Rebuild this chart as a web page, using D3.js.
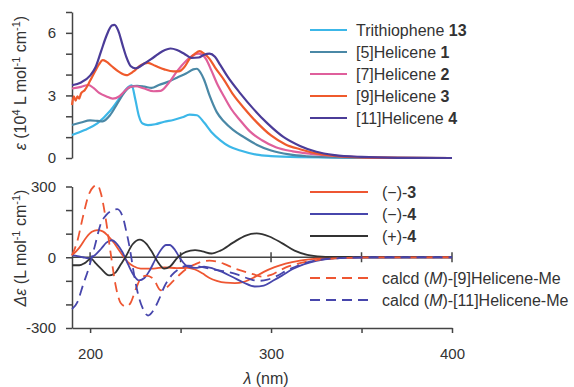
<!DOCTYPE html>
<html>
<head>
<meta charset="utf-8">
<script src="https://cdn.jsdelivr.net/npm/d3@7"></script>
<style>
  body { margin: 0; background: #fff; }
  svg { font-family: Arial, "Liberation Sans", Helvetica, sans-serif; }
  .axis path, .axis line { stroke: #444; stroke-width: 1.5; }
  .axis text { font-size: 15px; fill: #333; }
  .legend text { font-size: 16px; fill: #333; }
</style>
</head>
<body>
<svg id="chart" width="574" height="387"></svg>
<script>
// absorption, epsilon in 10^4 L mol-1 cm-1, [lambda nm, value]
const trithiophene13 = [[190,1.1],[197,1.34],[204,1.66],[211,2.25],[217,2.95],[221,3.4],[223,3.48],[225,2.8],[227,2.0],[229,1.65],[232,1.58],[236,1.62],[241,1.74],[246,1.82],[251,1.95],[255,2.08],[259,2.05],[263,1.7],[267,1.25],[272,0.85],[277,0.55],[283,0.36],[292,0.16],[300,0.09],[315,0.04],[340,0.02],[400,0]]
const helicene5 = [[190,1.58],[195,1.7],[200,1.8],[204,1.78],[207,1.76],[211,2.05],[215,2.6],[219,3.15],[222,3.4],[226,3.46],[230,3.42],[234,3.36],[238,3.5],[243,3.65],[248,3.85],[253,4.05],[257,4.25],[259,4.28],[261,4.1],[263,3.75],[266,3.0],[270,2.2],[274,1.75],[279,1.35],[285,1.0],[292,0.64],[300,0.36],[310,0.17],[320,0.08],[335,0.03],[360,0.01],[400,0]]
const helicene7 = [[190,3.33],[195,3.41],[199,3.5],[202,3.35],[205,3.12],[209,2.95],[212.5,2.85],[216,2.95],[219,3.2],[222,3.41],[225,3.44],[230,3.33],[235,3.2],[239,3.22],[243,3.55],[248,4.15],[253,4.65],[257,4.93],[260,5.0],[262,4.95],[264,4.75],[267,4.2],[270,3.6],[274,2.95],[278,2.35],[283,1.8],[288,1.3],[295,0.85],[303,0.5],[312,0.32],[322,0.2],[335,0.1],[350,0.04],[370,0.01],[400,0]]
const helicene9 = [[190,2.54],[191,2.95],[192,2.75],[193,2.95],[194,2.85],[195,3.1],[197,3.25],[200,3.7],[203,4.2],[205,4.5],[207,4.69],[209,4.62],[212,4.4],[216,4.13],[220,3.97],[224,4.15],[228,4.45],[232,4.56],[236,4.42],[241,4.25],[246,4.15],[249,4.15],[252,4.35],[255,4.75],[258,5.0],[260.5,5.12],[263,5.0],[266,4.75],[269,4.35],[274,3.75],[279,3.05],[285,2.4],[292,1.72],[300,1.08],[308,0.65],[316,0.42],[325,0.22],[338,0.08],[355,0.02],[400,0]]
const helicene11 = [[190,3.49],[195,3.62],[200,3.95],[203,4.35],[206,5.1],[209,5.85],[212,6.35],[213.5,6.38],[215.5,6.12],[218,5.4],[220,4.85],[222.5,4.4],[225,4.3],[230,4.53],[235,4.82],[240,5.12],[244.5,5.25],[248,5.18],[252,5.0],[256,4.8],[260,4.82],[263,4.95],[266,5.0],[269,4.85],[272,4.45],[276,3.9],[283,3.1],[290,2.38],[298,1.66],[307,1.0],[316,0.58],[325,0.3],[335,0.14],[350,0.05],[370,0.01],[400,0]]

// circular dichroism, delta epsilon in L mol-1 cm-1
const minus3 = [[190,8],[194,40],[198,85],[201,108],[204,115],[207,110],[210,90],[213.5,58],[216,30],[218,8],[221,-22],[224,-38],[228,-48],[235,-48],[241,-43],[248,-46],[254,-45],[258,-52],[262,-68],[266,-88],[270,-100],[275,-108],[280,-110],[285,-104],[290,-88],[296,-62],[302,-42],[308,-27],[316,-14],[325,-6],[335,-2],[350,0],[400,0]]
const minus4 = [[190,8],[193,5],[196,0],[199,-5],[202,5],[206,35],[209,62],[212,72],[215,55],[218,20],[221,-30],[224,-75],[227,-98],[230,-88],[233,-55],[236,-10],[239,30],[242,52],[244,52],[247,30],[250,-8],[254,-40],[258,-45],[263,-40],[268,-48],[273,-62],[279,-85],[285,-108],[291,-124],[296,-120],[301,-100],[306,-78],[312,-50],[318,-30],[325,-15],[335,-5],[350,-1],[400,0]]
const plus4 = [[190,-34],[194,-34],[197,-25],[200.5,-6],[203,-25],[206,-48],[210.5,-77],[214,-65],[217,-30],[219.5,0],[223.5,55],[227.5,75],[231,58],[234,25],[237,-15],[241,-48],[244,-40],[248.5,0],[253,23],[258,30],[262,25],[267,16],[272,28],[279,62],[286,92],[292,101],[299,88],[306,60],[313,28],[320,10],[328,3],[340,1],[360,0],[400,0]]
const calcd9 = [[190,8],[193,70],[196,170],[199,260],[202,300],[204,307],[206,270],[208.5,170],[211.5,10],[214,-115],[217,-195],[220,-209],[222.5,-192],[225.5,-130],[228,-90],[231,-78],[235,-92],[239,-140],[242,-130],[246,-100],[250,-70],[254,-45],[258,-30],[262,-18],[266,-14],[270,-18],[274,-28],[279,-45],[284,-58],[290,-72],[295,-82],[300,-75],[305,-55],[310,-38],[316,-25],[325,-12],[335,-5],[350,-1],[400,0]]
const calcd11 = [[190,-220],[193,-190],[196,-120],[199.5,-40],[202.5,44],[206,144],[209,180],[212,198],[215,204],[218,172],[220,110],[222,35],[224,-60],[226,-140],[229,-215],[232,-247],[235,-225],[238,-180],[241,-125],[245,-77],[249,-50],[254,-36],[259,-38],[264,-45],[270,-55],[276,-62],[282,-75],[288,-92],[293,-100],[298,-95],[303,-80],[309,-55],[315,-35],[322,-18],[330,-8],[340,-3],[355,0],[400,0]]

const topLabels = [["Trithiophene ", "13"], ["[5]Helicene ", "1"], ["[7]Helicene ", "2"], ["[9]Helicene ", "3"], ["[11]Helicene ", "4"]]
const xTicks = [200, 250, 300, 350, 400]

const svg = d3.select("#chart")

const x = d3.scaleLinear().domain([190, 400]).range([72, 452])
const yTop = d3.scaleLinear().domain([0, 7]).range([158, 12])
const yBot = d3.scaleLinear().domain([-300, 300]).range([328, 186.5])

// ---- top panel: UV-vis
svg.append("g")
  .attr("class", "axis")
  .attr("transform", "translate(72,0)")
  .call(d3.axisLeft(yTop)
    .tickValues(d3.range(0, 8))
    .tickSize(6)
    .tickSizeOuter(0)
    .tickPadding(10)
    .tickFormat(d => d % 3 === 0 ? d : ""))

const topSeries = [
  {data: trithiophene13, color: "#3cb7e8"},
  {data: helicene5, color: "#4a88a6"},
  {data: helicene7, color: "#df5f9c"},
  {data: helicene9, color: "#ef5a2c"},
  {data: helicene11, color: "#4b3c98"}
]

const lineTop = d3.line()
  .x(d => x(d[0]))
  .y(d => yTop(d[1]))
  .curve(d3.curveMonotoneX)

svg.append("g")
  .selectAll("path")
  .data(topSeries)
  .join("path")
  .attr("d", s => lineTop(s.data))
  .attr("fill", "none")
  .attr("stroke", s => s.color)
  .attr("stroke-width", 2.2)

const topLegend = svg.append("g").attr("class", "legend")
topSeries.forEach((s, i) => {
  const cy = 30 + i * 22
  topLegend.append("line")
    .attr("x1", 310).attr("x2", 347)
    .attr("y1", cy).attr("y2", cy)
    .attr("stroke", s.color)
    .attr("stroke-width", 2.2)
  const t = topLegend.append("text")
    .attr("x", 356).attr("y", cy).attr("dy", "0.36em")
  t.append("tspan").text(topLabels[i][0])
  t.append("tspan").attr("font-weight", "bold").text(topLabels[i][1])
})

// top y label
const topLabel = svg.append("text")
  .attr("transform", "translate(26,83) rotate(-90)")
  .attr("text-anchor", "middle")
  .attr("font-size", 16)
  .attr("fill", "#333")
topLabel.append("tspan").attr("font-style", "italic").text("ε")
topLabel.append("tspan").text(" (10")
topLabel.append("tspan").attr("font-size", 11).attr("dy", -6).text("4")
topLabel.append("tspan").attr("dy", 6).text(" L mol")
topLabel.append("tspan").attr("font-size", 11).attr("dy", -6).text("-1")
topLabel.append("tspan").attr("dy", 6).text(" cm")
topLabel.append("tspan").attr("font-size", 11).attr("dy", -6).text("-1")
topLabel.append("tspan").attr("dy", 6).text(")")

// ---- bottom panel: CD
svg.append("g")
  .attr("class", "axis")
  .attr("transform", "translate(72,0)")
  .call(d3.axisLeft(yBot)
    .tickValues(d3.range(-300, 301, 100))
    .tickSize(6)
    .tickSizeOuter(0)
    .tickPadding(10)
    .tickFormat(d => d % 300 === 0 ? d : ""))

svg.append("g")
  .attr("class", "axis")
  .attr("transform", `translate(0,${yBot(-300)})`)
  .call(d3.axisBottom(x)
    .tickValues(xTicks)
    .tickSize(5)
    .tickSizeOuter(0)
    .tickPadding(15)
    .tickFormat(d => d % 100 === 0 ? d : ""))

// zero line with crossing ticks
const zero = svg.append("g").attr("class", "axis")
zero.append("line")
  .attr("x1", x(190)).attr("x2", x(400))
  .attr("y1", yBot(0)).attr("y2", yBot(0))
  .attr("stroke-width", 2)
zero.selectAll(".zt")
  .data(xTicks)
  .join("line")
  .attr("class", "zt")
  .attr("x1", d => x(d)).attr("x2", d => x(d))
  .attr("y1", yBot(0) - 5).attr("y2", yBot(0) + 5)

const botSeries = [
  {data: minus3, color: "#ee5632", dash: null},
  {data: minus4, color: "#4746ac", dash: null},
  {data: plus4, color: "#333333", dash: null},
  {data: calcd9, color: "#ee5632", dash: "10,6"},
  {data: calcd11, color: "#4746ac", dash: "10,6"}
]

const lineBot = d3.line()
  .x(d => x(d[0]))
  .y(d => yBot(d[1]))
  .curve(d3.curveMonotoneX)

svg.append("g")
  .selectAll("path")
  .data(botSeries)
  .join("path")
  .attr("d", s => lineBot(s.data))
  .attr("fill", "none")
  .attr("stroke", s => s.color)
  .attr("stroke-width", 1.8)
  .attr("stroke-dasharray", s => s.dash)

const botLegend = svg.append("g").attr("class", "legend")
const botRows = [192, 214, 236, 278, 300]
botSeries.forEach((s, i) => {
  botLegend.append("line")
    .attr("x1", 310).attr("x2", 368)
    .attr("y1", botRows[i]).attr("y2", botRows[i])
    .attr("stroke", s.color)
    .attr("stroke-width", 2)
    .attr("stroke-dasharray", s.dash)
})
function legendText(cy) {
  return botLegend.append("text").attr("x", 382).attr("y", cy).attr("dy", "0.36em")
}
let t = legendText(botRows[0])
t.append("tspan").text("(−)-")
t.append("tspan").attr("font-weight", "bold").text("3")
t = legendText(botRows[1])
t.append("tspan").text("(−)-")
t.append("tspan").attr("font-weight", "bold").text("4")
t = legendText(botRows[2])
t.append("tspan").text("(+)-")
t.append("tspan").attr("font-weight", "bold").text("4")
t = legendText(botRows[3])
t.append("tspan").text("calcd (")
t.append("tspan").attr("font-style", "italic").text("M")
t.append("tspan").text(")-[9]Helicene-Me")
t = legendText(botRows[4])
t.append("tspan").text("calcd (")
t.append("tspan").attr("font-style", "italic").text("M")
t.append("tspan").text(")-[11]Helicene-Me")

// bottom y label
const botLabel = svg.append("text")
  .attr("transform", "translate(26,248) rotate(-90)")
  .attr("text-anchor", "middle")
  .attr("font-size", 16)
  .attr("fill", "#333")
botLabel.append("tspan").attr("font-style", "italic").text("Δε")
botLabel.append("tspan").text(" (L mol")
botLabel.append("tspan").attr("font-size", 11).attr("dy", -6).text("-1")
botLabel.append("tspan").attr("dy", 6).text(" cm")
botLabel.append("tspan").attr("font-size", 11).attr("dy", -6).text("-1")
botLabel.append("tspan").attr("dy", 6).text(")")

// x label
const xLabel = svg.append("text")
  .attr("x", 266).attr("y", 384)
  .attr("text-anchor", "middle")
  .attr("font-size", 16)
  .attr("fill", "#333")
xLabel.append("tspan").attr("font-style", "italic").text("λ")
xLabel.append("tspan").text(" (nm)")
</script>
</body>
</html>
